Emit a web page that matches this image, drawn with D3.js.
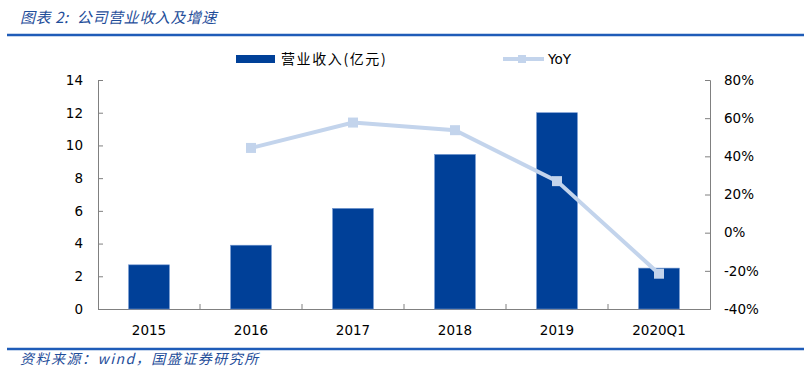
<!DOCTYPE html>
<html>
<head>
<meta charset="utf-8">
<script src="https://cdn.jsdelivr.net/npm/d3@7"></script>
<style>
  body { margin: 0; background: #fff; }
  svg { display: block; }
</style>
</head>
<body>
<div id="chart"></div>
<script>
// chart data
const categories = ['2015', '2016', '2017', '2018', '2019', '2020Q1'];
const revenue = [2.7, 3.9, 6.15, 9.45, 12.0, 2.5];
const yoy = [null, 44.4, 57.7, 53.7, 27.0, -21.5];
const leftTicks = [0, 2, 4, 6, 8, 10, 12, 14];
const rightTicks = [-40, -20, 0, 20, 40, 60, 80];

const width = 804;
const height = 368;
const margin = { top: 80, right: 94, bottom: 59, left: 98 };
const font = '"DejaVu Sans", Tahoma, sans-serif';
const cjk = '"Noto Sans CJK SC", sans-serif';
const barColor = '#004098';
const lineColor = '#c3d4ec';
const axisColor = '#808080';
const headColor = '#1f4e9a';

const svg = d3.select('#chart').append('svg')
    .attr('width', width)
    .attr('height', height);

// header and footer
svg.append('text')
    .attr('x', 20)
    .attr('y', 23)
    .attr('fill', headColor)
    .style('font-family', cjk)
    .style('font-style', 'italic')
    .style('font-size', '15px')
    .style('letter-spacing', '0.6px')
    .style('white-space', 'pre')
    .text('图表 2:  公司营业收入及增速');

svg.append('line')
    .attr('x1', 7).attr('x2', 804)
    .attr('y1', 35).attr('y2', 35)
    .attr('stroke', '#1f5cb8')
    .attr('stroke-width', 2.5);

svg.append('line')
    .attr('x1', 7).attr('x2', 804)
    .attr('y1', 349).attr('y2', 349)
    .attr('stroke', '#1f5cb8')
    .attr('stroke-width', 2.5);

svg.append('text')
    .attr('x', 20)
    .attr('y', 364)
    .attr('fill', headColor)
    .style('font-family', cjk)
    .style('font-style', 'italic')
    .style('font-size', '14px')
    .style('letter-spacing', '1.5px')
    .text('资料来源：wind，国盛证券研究所');

// scales
const xScale = d3.scaleBand()
    .domain(categories)
    .range([margin.left, width - margin.right])
    .paddingInner(0.6)
    .paddingOuter(0.3);

const yLeft = d3.scaleLinear()
    .domain([0, 14])
    .range([height - margin.bottom, margin.top]);

const yRight = d3.scaleLinear()
    .domain([-40, 80])
    .range([height - margin.bottom, margin.top]);

// axes
const xAxis = svg.append('g')
    .attr('transform', `translate(0, ${height - margin.bottom})`)
    .call(d3.axisBottom(xScale).tickSize(0).tickPadding(16));

const step = xScale.step();
xAxis.selectAll('.sep')
    .data(d3.range(1, categories.length))
    .enter().append('line')
    .attr('x1', i => margin.left + i * step)
    .attr('x2', i => margin.left + i * step)
    .attr('y1', 0).attr('y2', -5)
    .attr('stroke', axisColor);

const leftAxis = svg.append('g')
    .attr('transform', `translate(${margin.left}, 0)`)
    .call(d3.axisLeft(yLeft).tickValues(leftTicks).tickSize(-5).tickPadding(15));

const rightAxis = svg.append('g')
    .attr('transform', `translate(${width - margin.right}, 0)`)
    .call(d3.axisRight(yRight).tickValues(rightTicks).tickSize(-5).tickPadding(14)
        .tickFormat(d => d + '%'));

[xAxis, leftAxis, rightAxis].forEach(g => {
    g.select('.domain').attr('stroke', axisColor);
    g.selectAll('.tick line').attr('stroke', axisColor);
    g.selectAll('text')
        .style('font-family', font)
        .style('font-size', '13.5px')
        .attr('fill', '#000');
});

// bars
svg.selectAll('.bar')
    .data(categories)
    .enter().append('rect')
    .attr('class', 'bar')
    .attr('x', (d, i) => xScale(d))
    .attr('y', (d, i) => yLeft(revenue[i]))
    .attr('width', xScale.bandwidth())
    .attr('height', (d, i) => yLeft(0) - yLeft(revenue[i]))
    .attr('fill', barColor)
    .attr('stroke', '#6f95cf')
    .attr('stroke-width', 0.6);

// yoy line
const pts = categories.map((c, i) => ({ c, v: yoy[i] })).filter(d => d.v !== null);
const line = d3.line()
    .x(d => xScale(d.c) + xScale.bandwidth() / 2)
    .y(d => yRight(d.v));

svg.append('path')
    .datum(pts)
    .attr('d', line)
    .attr('fill', 'none')
    .attr('stroke', lineColor)
    .attr('stroke-width', 4);

svg.selectAll('.marker')
    .data(pts)
    .enter().append('rect')
    .attr('class', 'marker')
    .attr('x', d => xScale(d.c) + xScale.bandwidth() / 2 - 5)
    .attr('y', d => yRight(d.v) - 5)
    .attr('width', 10)
    .attr('height', 10)
    .attr('fill', lineColor);

// legend
const legend = svg.append('g');
legend.append('rect')
    .attr('x', 236).attr('y', 55)
    .attr('width', 39).attr('height', 8)
    .attr('fill', barColor);
legend.append('text')
    .attr('x', 281).attr('y', 64)
    .style('font-family', cjk)
    .style('font-size', '14px')
    .style('letter-spacing', '1.6px')
    .text('营业收入(亿元)');

legend.append('line')
    .attr('x1', 503).attr('x2', 544)
    .attr('y1', 59).attr('y2', 59)
    .attr('stroke', lineColor)
    .attr('stroke-width', 4);
legend.append('rect')
    .attr('x', 518).attr('y', 55)
    .attr('width', 8).attr('height', 8)
    .attr('fill', lineColor);
legend.append('text')
    .attr('x', 548).attr('y', 64)
    .style('font-family', font)
    .style('font-size', '13.5px')
    .text('YoY');
</script>
</body>
</html>
